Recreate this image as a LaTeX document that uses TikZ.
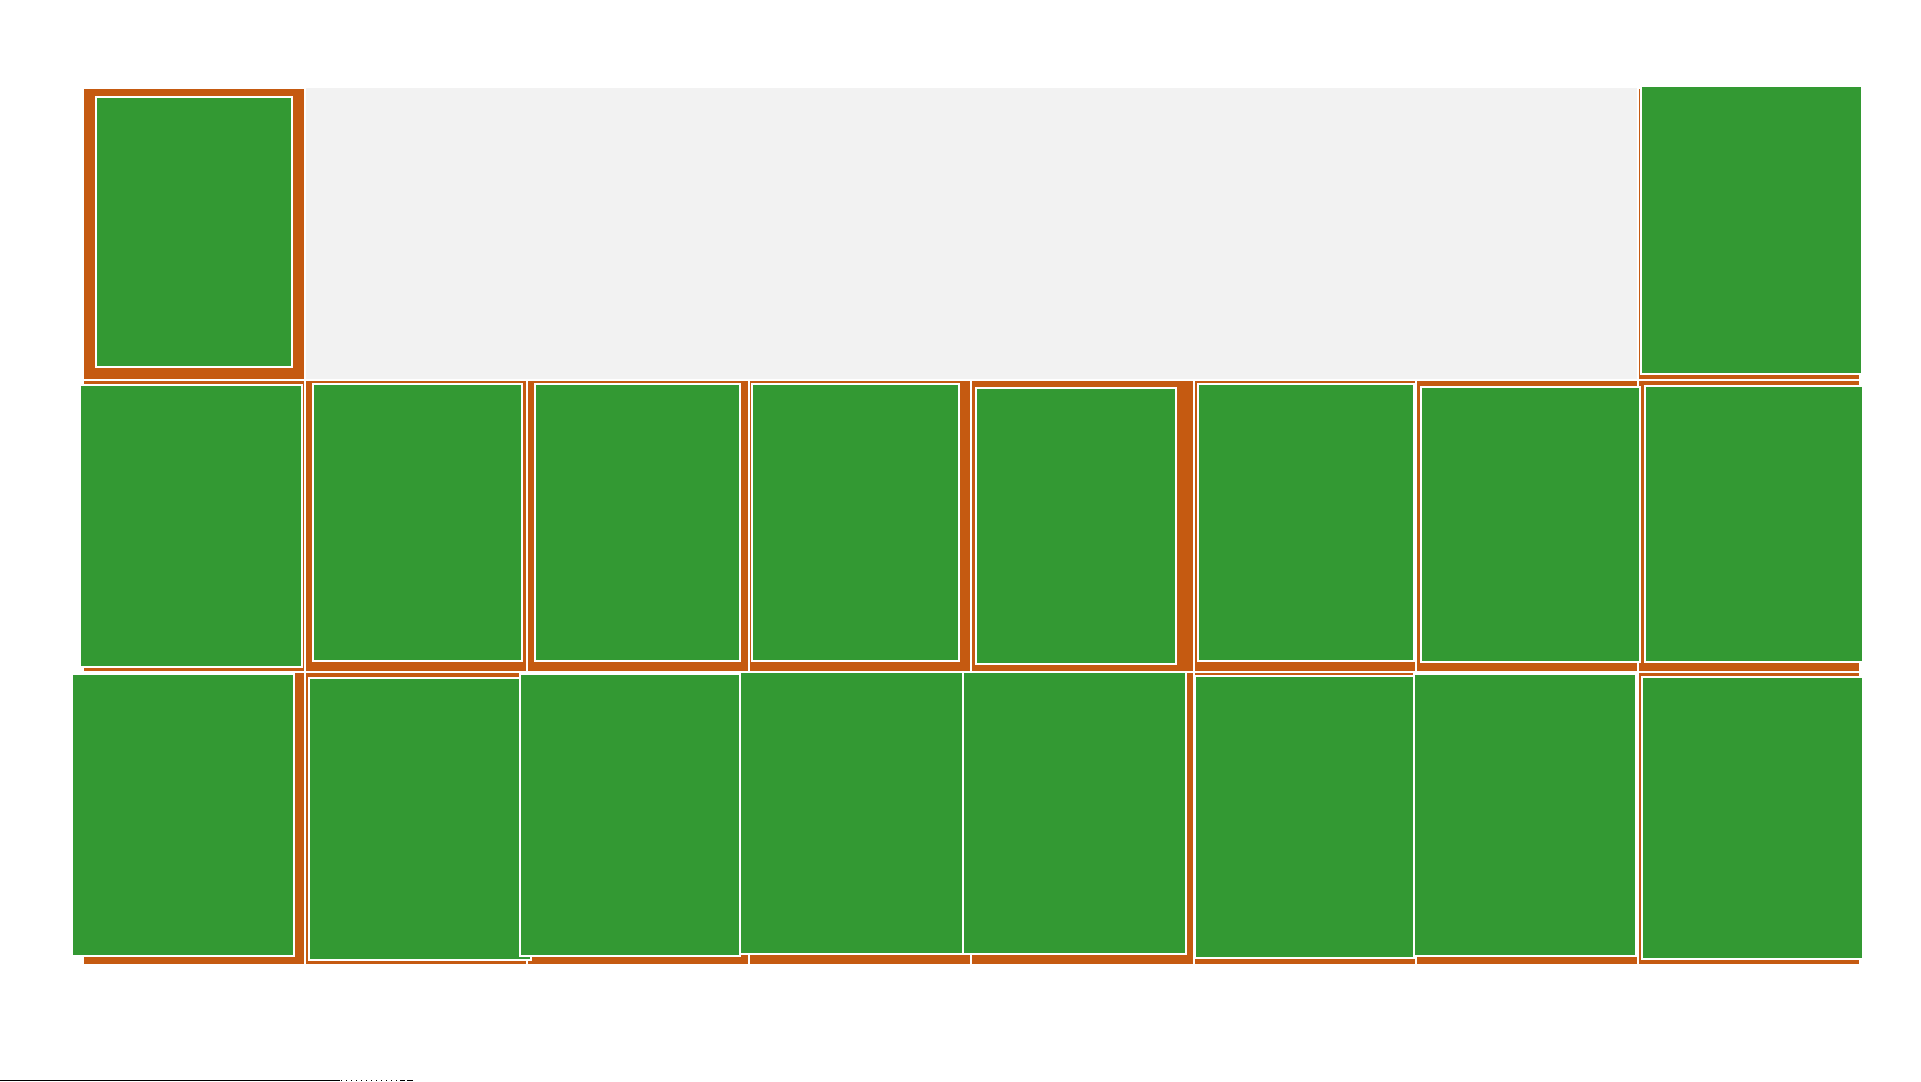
\documentclass[tikz,border=0pt]{standalone}
\definecolor{cellorange}{RGB}{197,90,17}
\definecolor{cellgreen}{RGB}{51,153,51}
\definecolor{panelgray}{RGB}{242,242,242}
\begin{document}
\begin{tikzpicture}[x=0.5pt,y=-0.5pt,
  slot/.style={fill=cellorange,draw=white,line width=1pt},
  tile/.style={fill=cellgreen,draw=white,line width=1pt},
  baseline rule/.style={draw=black,line width=0.5pt}]
\useasboundingbox (0,0) rectangle (1921,1081);
\fill[white] (0,0) rectangle (1921,1081);
% empty part of the top row
\fill[panelgray] (305.1,88.5) rectangle (1637.7,380);
% orange slots
\draw[slot] (83,88.5) rectangle (305.1,380);
\draw[slot] (1637.7,88.5) rectangle (1859.8,380);
\foreach \i in {0,...,7}{
  \draw[slot] ({83+222.1*\i},380) rectangle ({83+222.1*(\i+1)},672);
  \draw[slot] ({83+222.1*\i},672) rectangle ({83+222.1*(\i+1)},964.5);
}
% green tiles, top row
\draw[tile] (96,97) rectangle (292,366.7);
\draw[tile] (1641,86) rectangle (1862,374);
% green tiles, middle row
\foreach \a/\b/\c/\d in {79.5/385/302/667, 313/384/522/661, 535/384/740/661, 752/384/959/661,
  976/388/1176/664, 1198/384/1414/661, 1420.5/387/1640/662, 1645/386/1863/662}{
  \draw[tile] (\a,\b) rectangle (\c,\d);
}
% green tiles, bottom row
\foreach \a/\b/\c/\d in {72/674/294/956, 309/678/531/960, 520/674/740/956, 740/672/962.5/954,
  963/672/1186/954, 1195/676/1414/957.5, 1414/674/1636/956, 1642/677/1863/958.5}{
  \draw[tile] (\a,\b) rectangle (\c,\d);
}
% thin rule at the bottom edge
\draw[baseline rule] (0,1080.5) -- (340,1080.5);
\draw[baseline rule,dotted] (341,1080.5) -- (398,1080.5);
\draw[baseline rule] (400,1080.5) -- (405,1080.5);
\draw[baseline rule] (407,1080.5) -- (413,1080.5);
\end{tikzpicture}
\end{document}
